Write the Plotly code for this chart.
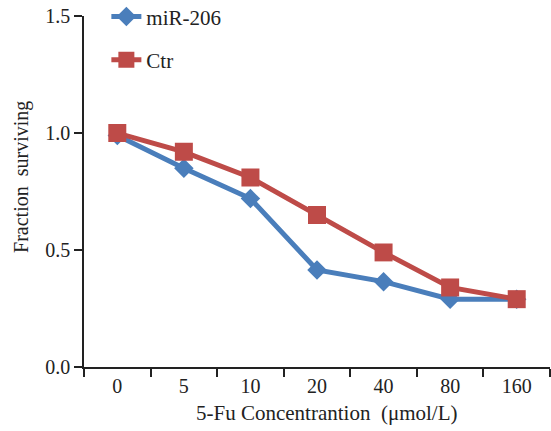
import plotly.graph_objects as go

categories = ["0", "5", "10", "20", "40", "80", "160"]
mir206 = [0.99, 0.85, 0.72, 0.415, 0.365, 0.29, 0.29]
ctr = [1.0, 0.92, 0.81, 0.65, 0.49, 0.34, 0.29]
y_ticks = [0.0, 0.5, 1.0, 1.5]
y_labels = ["0.0", "0.5", "1.0", "1.5"]

blue = "#4a7ebb"
red = "#be4b48"
font = "Liberation Serif"
txt = "#222"

fig = go.Figure()
fig.add_trace(go.Scatter(
    x=categories, y=mir206, name="miR-206", mode="lines+markers",
    line=dict(color=blue, width=5),
    marker=dict(symbol="diamond", size=15, color=blue),
    legendgroup="a",
))
fig.add_trace(go.Scatter(
    x=categories, y=ctr, name="Ctr", mode="lines+markers",
    line=dict(color=red, width=5),
    marker=dict(symbol="square", size=18, color=red),
    legendgroup="b",
))

fig.update_layout(
    width=551, height=431,
    margin=dict(l=84, r=1, t=0, b=64, autoexpand=False),
    paper_bgcolor="white", plot_bgcolor="white",
    font=dict(family=font, size=20, color=txt),
    showlegend=True,
    legend=dict(
        x=0.048, y=1.01, xanchor="left", yanchor="top",
        bgcolor="rgba(0,0,0,0)", font=dict(family=font, size=21, color=txt),
        traceorder="grouped", tracegroupgap=13,
    ),
    xaxis=dict(
        type="category", range=[-0.5, 6.5], tickson="boundaries",
        automargin=False,
        showline=True, linecolor=txt, linewidth=1.5,
        ticks="outside", ticklen=8, tickcolor=txt, tickwidth=1.5,
        showgrid=False, zeroline=False,
        tickfont=dict(family=font, size=20, color=txt),
    ),
    yaxis=dict(
        range=[0, 1.5], tickvals=y_ticks, ticktext=y_labels,
        domain=[0, 0.956], automargin=False,
        showline=True, linecolor=txt, linewidth=1.5,
        ticks="outside", ticklen=8, tickcolor=txt, tickwidth=1.5,
        showgrid=False, zeroline=False,
        tickfont=dict(family=font, size=20, color=txt),
    ),
    annotations=[
        dict(text="5-Fu Concentrantion  (μmol/L)", xref="paper", yref="paper",
             x=0.52, y=-0.125, xanchor="center", yanchor="middle",
             showarrow=False, font=dict(family=font, size=21, color=txt)),
        dict(text="Fraction  surviving", xref="paper", yref="paper",
             x=-0.133, y=0.518, xanchor="center", yanchor="middle", textangle=-90,
             showarrow=False, font=dict(family=font, size=20, color=txt)),
    ],
)

fig.write_html(
    "out.html",
    config={"displayModeBar": False},
    post_script="document.body.style.margin='0';document.body.style.overflow='hidden';",
)
